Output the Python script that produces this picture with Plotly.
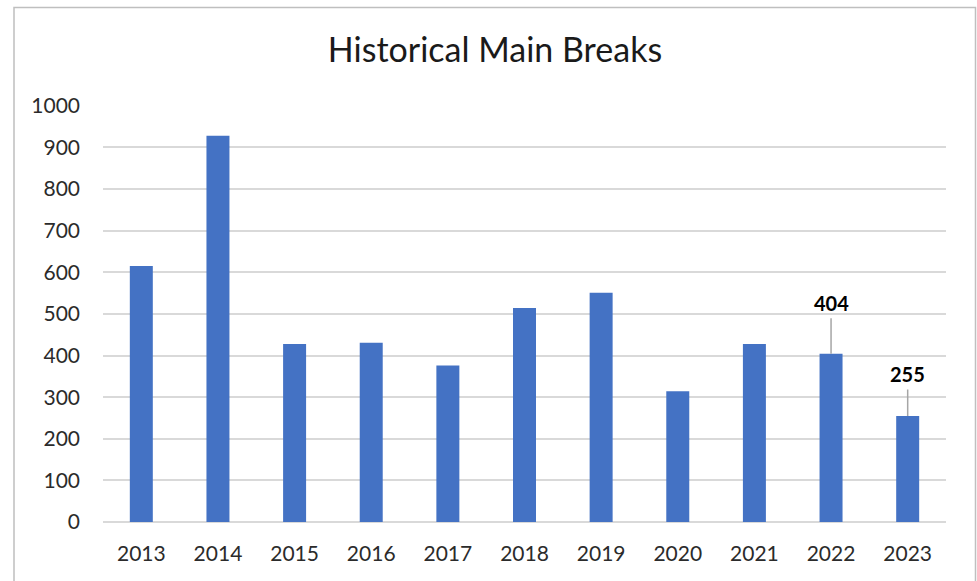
import plotly.graph_objects as go

years = ["2013", "2014", "2015", "2016", "2017", "2018", "2019", "2020", "2021", "2022", "2023"]
breaks = [615, 928, 428, 431, 376, 514, 551, 314, 428, 404, 255]
labelled_years = ["2022", "2023"]
label_offsets_px = [-51, -42]
y_ticks = [0, 100, 200, 300, 400, 500, 600, 700, 800, 900, 1000]

W, H = 977, 581
ML, MR, MT, MB = 103, 31, 105, 59
PW, PH = W - ML - MR, H - MT - MB
YMAX = 1002

fig = go.Figure()
fig.add_trace(go.Bar(
    x=years, y=breaks,
    marker=dict(color="#4472C4", line=dict(width=0)),
    hoverinfo="x+y",
))

for yr, off in zip(labelled_years, label_offsets_px):
    idx = years.index(yr)
    val = breaks[idx]
    fig.add_annotation(
        x=idx, y=val, xref="x", yref="y",
        text=str(val), showarrow=True, arrowhead=0, arrowwidth=1.5,
        arrowcolor="#A6A6A6", ax=0, ay=off, borderpad=3,
        font=dict(family="Lato", size=20, color="#000000", weight="bold"),
    )

def px_x(p):
    return (p - ML) / PW

def px_y(p):
    return (H - MB - p) / PH

# chart outer border
fig.add_shape(type="rect", xref="paper", yref="paper",
              x0=px_x(14), x1=px_x(975.5), y0=px_y(600), y1=px_y(7.5),
              line=dict(color="#BFBFBF", width=1.5), fillcolor="rgba(0,0,0,0)", layer="below")

fig.update_layout(
    width=W, height=H,
    margin=dict(l=ML, r=MR, t=MT, b=MB, pad=0),
    paper_bgcolor="white", plot_bgcolor="white",
    title=dict(text="Historical Main Breaks", x=px_x(495), xanchor="center", xref="paper",
               y=1 - 50 / H, yanchor="middle",
               font=dict(family="Lato", size=34, color="#1a1a1a")),
    showlegend=False,
    bargap=0.70,
    xaxis=dict(type="category", categoryorder="array", categoryarray=years,
               range=[-0.5, len(years) - 0.5],
               showgrid=False, showline=False, zeroline=False, ticks="",
               tickfont=dict(family="Lato", size=21, color="#2b2b2b"),
               ticklabelstandoff=17),
    yaxis=dict(range=[0, YMAX], tickvals=y_ticks, showgrid=True, gridcolor="#D9D9D9",
               gridwidth=1.5, zeroline=True, zerolinecolor="#D9D9D9", zerolinewidth=1.5,
               showline=False, ticks="",
               tickfont=dict(family="Lato", size=21, color="#2b2b2b"),
               ticklabelstandoff=22),
)

fig.write_html("out.html", config={"displayModeBar": False},
               post_script="document.body.style.margin='0';document.body.style.overflow='hidden';")
